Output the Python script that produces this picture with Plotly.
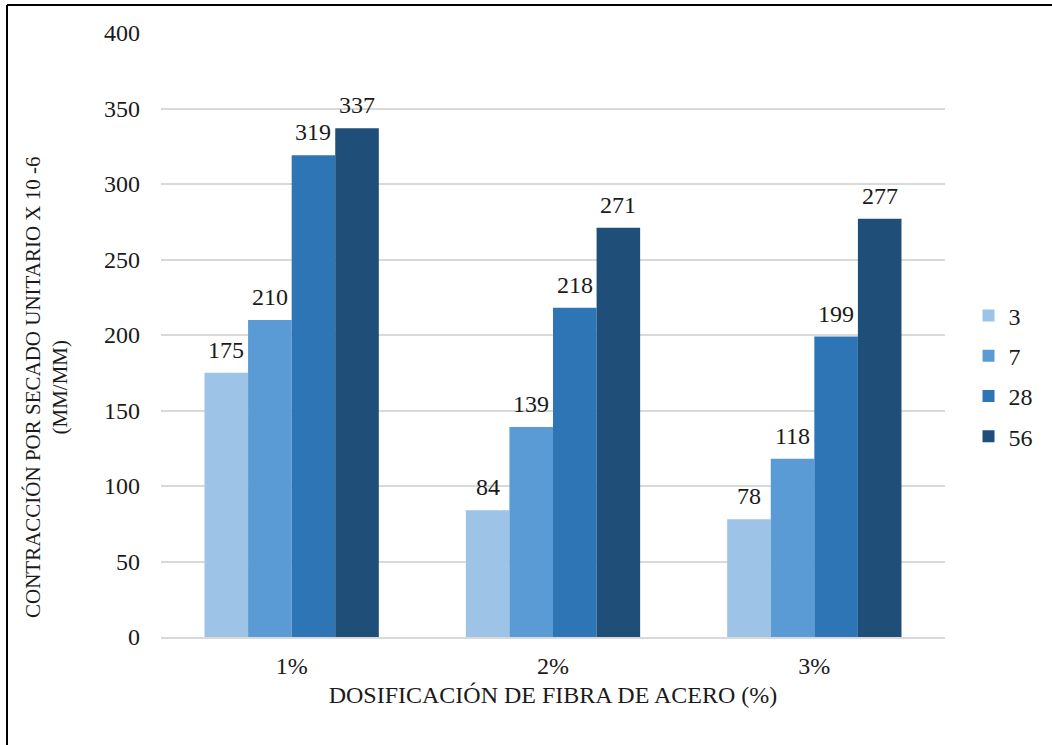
import plotly.graph_objects as go

# Dosage of steel fibre (categories) and curing ages (series, days)
dosificacion = ["1%", "2%", "3%"]
edades = ["3", "7", "28", "56"]
dia_3 = [175, 84, 78]
dia_7 = [210, 139, 118]
dia_28 = [319, 218, 199]
dia_56 = [337, 271, 277]
series = [dia_3, dia_7, dia_28, dia_56]
colores = ["#9DC3E6", "#5B9BD5", "#2E75B6", "#1F4E79"]

FONT = "Liberation Serif"
FS = 24
BARGAP = 0.333

W, H = 1052, 745
L, R, T, B = 161, 107, 33, 108
pw = W - L - R
ph = H - T - B

fig = go.Figure()
for edad, valores, color in zip(edades, series, colores):
    fig.add_trace(go.Bar(
        x=dosificacion, y=valores, name=edad, legendgroup=edad,
        marker=dict(color=color, line=dict(width=0)),
    ))

# value labels above each bar, offset to the bar's slot within its group
slot_px = pw / len(dosificacion) * (1 - BARGAP) / len(series)
labels = []
for j, valores in enumerate(series):
    for cat, v in zip(dosificacion, valores):
        labels.append(dict(
            x=cat, y=v, xref="x", yref="y", text=str(v), showarrow=False,
            xshift=(j - (len(series) - 1) / 2) * slot_px, yshift=8,
            yanchor="bottom", xanchor="center",
            font=dict(family=FONT, size=FS, color="#1a1a1a"),
        ))

fig.update_layout(
    width=W, height=H,
    margin=dict(l=L, r=R, t=T, b=B),
    paper_bgcolor="white", plot_bgcolor="white",
    barmode="group", bargap=BARGAP, bargroupgap=0,
    font=dict(family=FONT, size=FS, color="#1a1a1a"),
    showlegend=True,
    legend=dict(x=1.03, xanchor="left", y=(637 - 376) / ph, yanchor="middle",
                font=dict(family=FONT, size=FS), tracegroupgap=6,
                itemwidth=30),
    xaxis=dict(showgrid=False, showline=True, linecolor="#D9D9D9", linewidth=2,
               ticks="", ticklabelstandoff=6, tickfont=dict(family=FONT, size=FS),
               title=dict(text="DOSIFICACIÓN DE FIBRA DE ACERO (%)",
                          font=dict(family=FONT, size=FS), standoff=8)),
    yaxis=dict(range=[0, 400], dtick=50, showgrid=True, gridcolor="#D9D9D9",
               gridwidth=1.5, zeroline=False, showline=False, ticks="",
               ticklabelstandoff=20, tickfont=dict(family=FONT, size=FS)),
    annotations=labels + [dict(
        text="CONTRACCIÓN POR SECADO UNITARIO X 10 -6<br>(MM/MM)",
        textangle=-90, xref="paper", yref="paper",
        x=(46 - L) / pw, y=(637 - 387) / ph, xanchor="center", yanchor="middle",
        showarrow=False, font=dict(family=FONT, size=21), align="center",
    )],
    shapes=[
        dict(type="line", xref="paper", yref="paper",
             x0=(7 - L) / pw, x1=(W + 5 - L) / pw,
             y0=(H - B - 5) / ph, y1=(H - B - 5) / ph,
             line=dict(color="black", width=2)),
        dict(type="line", xref="paper", yref="paper",
             x0=(7 - L) / pw, x1=(7 - L) / pw,
             y0=(H - B - 5) / ph, y1=-(B + 5) / ph,
             line=dict(color="black", width=2)),
    ],
)

fig.write_html("out.html")
